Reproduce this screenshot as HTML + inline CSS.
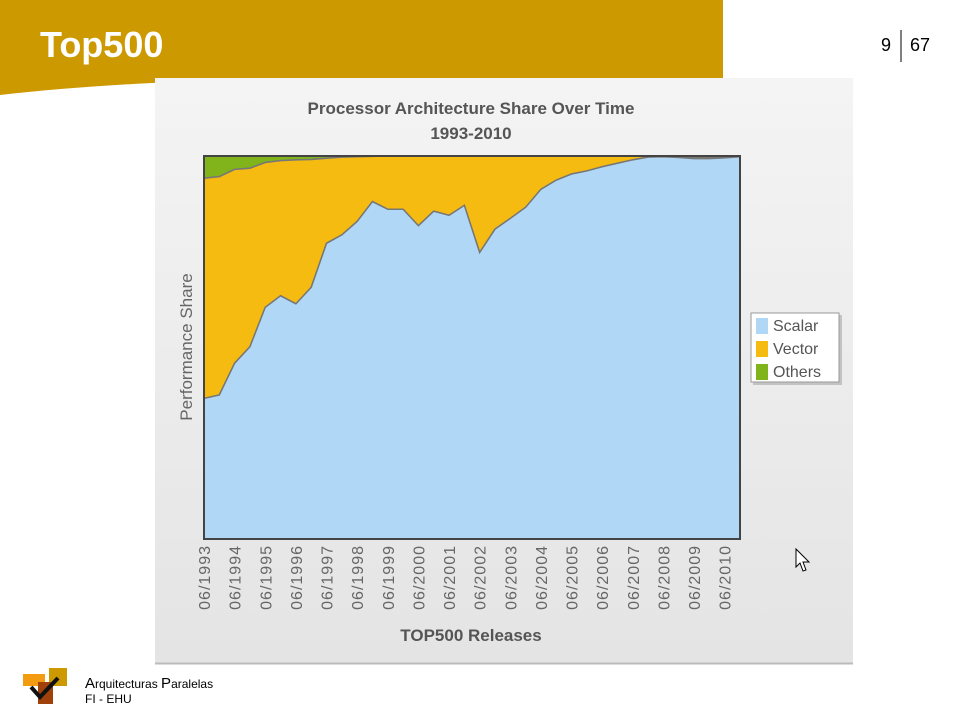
<!DOCTYPE html>
<html><head><meta charset="utf-8"><style>
body{margin:0;width:960px;height:720px;background:#fff;position:relative;overflow:hidden;font-family:"Liberation Sans",sans-serif}
</style></head><body>
<svg width="960" height="720" style="position:absolute;left:0;top:0">
<defs><linearGradient id="bg" x1="0" y1="0" x2="0" y2="1"><stop offset="0" stop-color="#f4f4f4"/><stop offset="1" stop-color="#e4e4e4"/></linearGradient></defs>
<path d="M0,0 H723 V78 H300 C180,80 80,86 0,95 Z" fill="#cc9900"/>
<text x="40" y="57" font-size="36" font-weight="bold" fill="#fff">Top500</text>
<text x="886" y="51" font-size="18" text-anchor="middle" fill="#000">9</text>
<line x1="901" y1="30" x2="901" y2="62" stroke="#000" stroke-width="1"/>
<text x="920" y="51" font-size="18" text-anchor="middle" fill="#000">67</text>
<rect x="155" y="78" width="698" height="585" fill="url(#bg)"/>
<line x1="155" y1="663.5" x2="853" y2="663.5" stroke="#bbb" stroke-width="2"/>
<text x="471" y="114" font-size="17" font-weight="bold" fill="#555" text-anchor="middle">Processor Architecture Share Over Time</text>
<text x="471" y="139" font-size="17" font-weight="bold" fill="#555" text-anchor="middle">1993-2010</text>
<text transform="translate(192,347) rotate(-90)" font-size="17" fill="#666" text-anchor="middle">Performance Share</text>
<text x="471" y="641" font-size="17" font-weight="bold" fill="#555" text-anchor="middle">TOP500 Releases</text>
<g id="plot"></g>
<g id="xlabels"></g>
<g>
<rect x="753" y="315" width="89" height="70" fill="#999" opacity="0.5"/>
<rect x="751" y="313" width="88" height="69" fill="#fff" stroke="#999"/>
<rect x="756" y="318" width="12" height="16" fill="#b0d8f6"/>
<text x="773" y="331" font-size="16" fill="#555">Scalar</text>
<rect x="756" y="341" width="12" height="16" fill="#f5bb10"/>
<text x="773" y="354" font-size="16" fill="#555">Vector</text>
<rect x="756" y="364" width="12" height="16" fill="#80b41a"/>
<text x="773" y="377" font-size="16" fill="#555">Others</text>
</g>
<path d="M796,549 L796,567 L800,563 L803,571 L806,570 L803,562 L809,562 Z" fill="#fff" stroke="#000" stroke-width="1"/>
<g>
<rect x="49" y="668" width="18" height="18" fill="#cc9900"/>
<rect x="23" y="674" width="22" height="12" fill="#f39c12"/>
<rect x="38" y="682" width="15" height="22" fill="#a0400a"/>
<path d="M31,687 L40,697 L58,678" fill="none" stroke="#111" stroke-width="4"/>
</g>
<text x="85" y="688" font-size="12" fill="#000"><tspan font-size="15">A</tspan>rquitecturas <tspan font-size="15">P</tspan>aralelas</text>
<text x="85" y="703" font-size="12" fill="#000">FI - EHU</text>
</svg>
<script>
const releases=["06/1993","11/1993","06/1994","11/1994","06/1995","11/1995","06/1996","11/1996","06/1997","11/1997","06/1998","11/1998","06/1999","11/1999","06/2000","11/2000","06/2001","11/2001","06/2002","11/2002","06/2003","11/2003","06/2004","11/2004","06/2005","11/2005","06/2006","11/2006","06/2007","11/2007","06/2008","11/2008","06/2009","11/2009","06/2010","11/2010"];
const scalar=[36.7,37.6,45.9,50.2,60.5,63.5,61.4,65.7,77.2,79.4,82.9,88.1,86.1,86.1,81.8,85.6,84.5,87.1,74.8,80.9,83.7,86.6,91.3,93.7,95.3,96.1,97.2,98.1,99.0,99.7,99.8,99.6,99.3,99.3,99.5,99.8];
const others=[5.8,5.4,3.5,3.2,1.7,1.2,1.0,0.9,0.6,0.3,0.2,0.1,0,0,0,0,0,0,0,0,0,0,0,0,0,0,0,0,0,0,0.2,0.4,0.5,0.5,0.4,0.2];
const vector=scalar.map((s,i)=>Math.max(0,100-s-others[i]));
const X0=204,X1=740,Y0=156,Y1=539;
const xs=i=>X0+(X1-X0)*i/(releases.length-1);
const ys=v=>Y1-(Y1-Y0)*v/100;
const NS="http://www.w3.org/2000/svg";
const plot=document.getElementById('plot');
function area(lo,hi,fill,name){
  let d="M"+lo.map((v,i)=>xs(i)+","+ys(v)).join(" L");
  for(let i=hi.length-1;i>=0;i--)d+=" L"+xs(i)+","+ys(hi[i]);
  d+="Z";
  const p=document.createElementNS(NS,'path');
  p.setAttribute('d',d);p.setAttribute('fill',fill);p.setAttribute('stroke','#777');p.setAttribute('stroke-width','1.5');
  
  
  plot.appendChild(p);
}
const zeros=scalar.map(()=>0);
const sv=scalar.map((s,i)=>s+vector[i]);
const tot=sv.map((s,i)=>s+others[i]);
area(sv,tot,'#80b41a','others-area');
area(scalar,sv,'#f5bb10','vector-area');
area(zeros,scalar,'#b0d8f6','scalar-area');
const fr=document.createElementNS(NS,'rect');
fr.setAttribute('x',X0);fr.setAttribute('y',Y0);fr.setAttribute('width',X1-X0);fr.setAttribute('height',Y1-Y0);
fr.setAttribute('fill','none');fr.setAttribute('stroke','#444');fr.setAttribute('stroke-width','2');


plot.appendChild(fr);
const xl=document.getElementById('xlabels');
releases.forEach((r,i)=>{
  if(!r.startsWith("06/"))return;
  const t=document.createElementNS(NS,'text');
  t.setAttribute('transform','translate('+(xs(i)+6)+',545) rotate(-90)');
  t.setAttribute('text-anchor','end');t.setAttribute('font-size','16');t.setAttribute('fill','#666');
  t.setAttribute('letter-spacing','1');
  t.textContent=r;
  
  
  xl.appendChild(t);
});
</script>
</body></html>
